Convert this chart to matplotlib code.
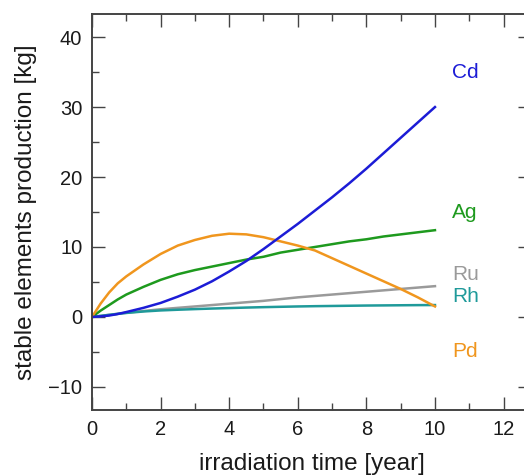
import numpy as np
import matplotlib
matplotlib.use("Agg")
import matplotlib.pyplot as plt
from matplotlib.ticker import MultipleLocator

plt.rcParams['font.family'] = ['Liberation Sans', 'DejaVu Sans']

# irradiation time [year]
years = [0, 0.25, 0.5, 0.75, 1, 1.5, 2, 2.5, 3, 3.5, 4, 4.5, 5, 5.5, 6, 6.5, 7, 7.5, 8, 8.5, 9, 9.5, 10]

# stable element production [kg]
cd = [0, 0.08, 0.2, 0.42, 0.7, 1.3, 2.0, 2.9, 3.9, 5.1, 6.5, 8.0, 9.7, 11.5, 13.3, 15.2, 17.1, 19.1, 21.2, 23.4, 25.6, 27.8, 30.0]
ag = [0, 0.9, 1.7, 2.5, 3.2, 4.3, 5.3, 6.1, 6.7, 7.2, 7.7, 8.2, 8.6, 9.2, 9.6, 10.0, 10.4, 10.8, 11.1, 11.5, 11.8, 12.1, 12.4]
ru = [0, 0.15, 0.3, 0.45, 0.6, 0.85, 1.1, 1.3, 1.5, 1.7, 1.9, 2.1, 2.3, 2.55, 2.8, 3.0, 3.2, 3.4, 3.6, 3.8, 4.0, 4.2, 4.4]
rh = [0, 0.15, 0.3, 0.44, 0.57, 0.78, 0.93, 1.03, 1.12, 1.2, 1.27, 1.34, 1.4, 1.45, 1.5, 1.54, 1.57, 1.6, 1.63, 1.65, 1.67, 1.69, 1.7]
pd = [0, 1.9, 3.5, 4.8, 5.8, 7.5, 9.0, 10.2, 11.0, 11.6, 11.9, 11.8, 11.4, 10.8, 10.2, 9.5, 8.4, 7.3, 6.2, 5.1, 4.0, 2.8, 1.5]

names = ['Ru', 'Rh', 'Ag', 'Pd', 'Cd']
series = [ru, rh, ag, pd, cd]
colors = ['#9a9a9a', '#1f9a9a', '#1e9a1e', '#f0961e', '#1c1cd6']
label_y = [6.0, 2.9, 14.9, -5.0, 35.0]

fig = plt.figure(figsize=(5.24, 4.75), dpi=100)
ax = fig.add_axes([92 / 524, 65 / 475, 439 / 524, 396 / 475])

for name, vals, c, ly in zip(names, series, colors, label_y):
    ax.plot(years, vals, color=c, lw=1.8)
    ax.text(10.5, ly, name, color=c, fontsize=15, va='center', ha='left')

ax.set_xlim(0, 12.8)
ax.set_ylim(-13.3, 43.3)
ax.xaxis.set_major_locator(MultipleLocator(2))
ax.xaxis.set_minor_locator(MultipleLocator(1))
ax.yaxis.set_major_locator(MultipleLocator(10))
ax.yaxis.set_minor_locator(MultipleLocator(5))
ax.tick_params(which='both', direction='in', top=True, right=True,
               labelsize=14.5, colors='#444444', labelcolor='#1a1a1a', width=1)
ax.tick_params(which='major', length=9.5, pad=7)
ax.tick_params(which='minor', length=5)
for s in ax.spines.values():
    s.set_linewidth(1.4)
    s.set_color('#444444')

ax.set_xlabel('irradiation time [year]', fontsize=17.5, labelpad=10, color='#1a1a1a')
ax.set_ylabel('stable elements production [kg]', fontsize=17.5, labelpad=8, color='#1a1a1a')

fig.savefig('out.png', dpi=100)
